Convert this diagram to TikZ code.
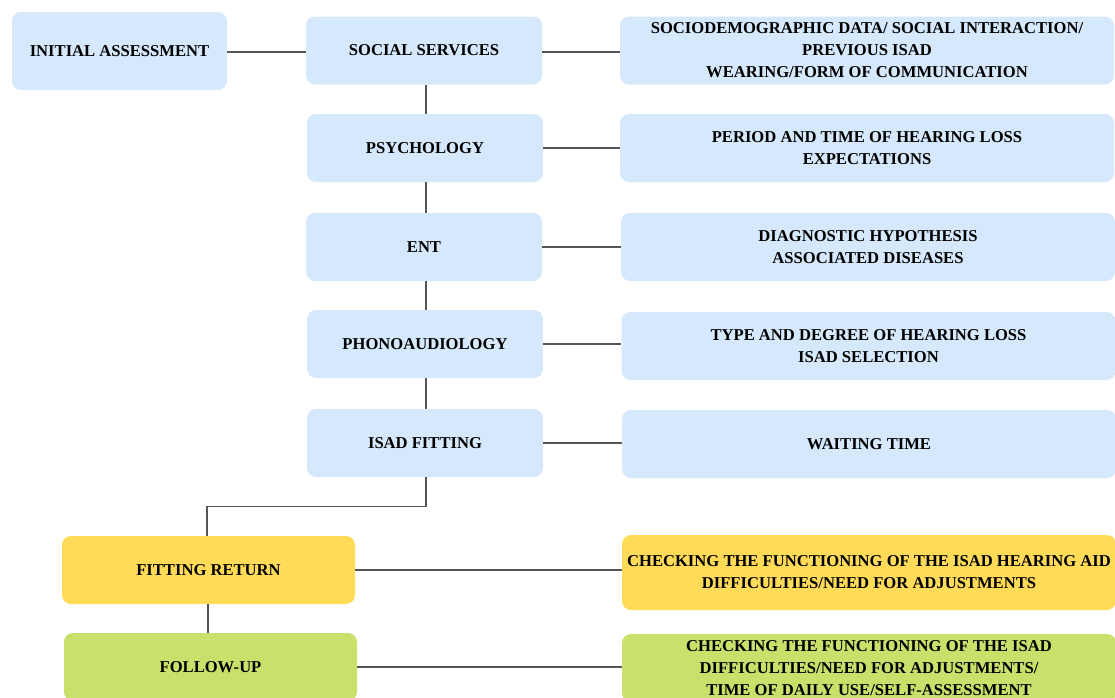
\documentclass[tikz,border=0pt]{standalone}
\usepackage{fontspec}
\setmainfont{Liberation Serif}
\usetikzlibrary{positioning}
\definecolor{stageblue}{RGB}{213,232,252}
\definecolor{stageyellow}{RGB}{255,219,88}
\definecolor{stagegreen}{RGB}{201,224,106}
\definecolor{linkgray}{RGB}{85,85,85}
\begin{document}
\begin{tikzpicture}[x=1pt, y=-1pt,
    stage/.style = {rounded corners=9pt, fill=stageblue, align=center, inner sep=0pt,
                    font=\fontsize{16.6}{22}\selectfont\bfseries},
    left/.style = {stage, minimum width=236pt, minimum height=68pt},
    note/.style = {stage, minimum width=494pt, minimum height=68pt},
    link/.style = {draw=linkgray, line width=1.4pt}]
    \useasboundingbox (0,0) rectangle (1115,697);
    \node[stage, minimum width=215pt, minimum height=78pt] (init) at (119.5,51) {INITIAL ASSESSMENT};
    \node[left] (soc) at (424,50.5) {SOCIAL SERVICES};
    \node[left] (psy) at (425,148) {PSYCHOLOGY};
    \node[left] (ent) at (424,247) {ENT};
    \node[left] (pho) at (425,344) {PHONOAUDIOLOGY};
    \node[left] (isad) at (425,443) {ISAD FITTING};
    \node[note] (socnote) at (867,50.5) {SOCIODEMOGRAPHIC DATA/ SOCIAL INTERACTION/\\PREVIOUS ISAD\\WEARING/FORM OF COMMUNICATION};
    \node[note] (psynote) at (867,148) {PERIOD AND TIME OF HEARING LOSS\\EXPECTATIONS};
    \node[note] (entnote) at (868,247) {DIAGNOSTIC HYPOTHESIS\\ASSOCIATED DISEASES};
    \node[note] (phonote) at (868.5,346) {TYPE AND DEGREE OF HEARING LOSS\\ISAD SELECTION};
    \node[note] (isadnote) at (869,444) {WAITING TIME};
    \node[stage, fill=stageyellow, minimum width=293pt, minimum height=68pt] (fret) at (208.5,570) {FITTING RETURN};
    \node[stage, fill=stagegreen, minimum width=293pt, minimum height=68pt] (fup) at (210.5,667) {FOLLOW-UP};
    \node[note, fill=stageyellow, minimum height=75pt] (fretnote) at (869,572.5) {CHECKING THE FUNCTIONING OF THE ISAD HEARING AID\\DIFFICULTIES/NEED FOR ADJUSTMENTS};
    \node[note, fill=stagegreen, minimum height=68pt] (fupnote) at (869,668) {CHECKING THE FUNCTIONING OF THE ISAD\\DIFFICULTIES/NEED FOR ADJUSTMENTS/\\TIME OF DAILY USE/SELF-ASSESSMENT};
    % links
    \draw[link] (init.east |- 0,52) -- (soc.west |- 0,52);
    \draw[link] (soc.east |- 0,52) -- (socnote.west |- 0,52);
    \draw[link] (psy) -- (psynote);
    \draw[link] (ent) -- (entnote);
    \draw[link] (pho.east) -- (pho.east -| phonote.west);
    \draw[link] (isad.east) -- (isad.east -| isadnote.west);
    \draw[link] (fret) -- (fretnote.west |- fret.east);
    \draw[link] (fup) -- (fupnote.west |- fup.east);
    \draw[link] (soc.south -| 426,0) -- (psy.north -| 426,0);
    \draw[link] (psy.south -| 426,0) -- (ent.north -| 426,0);
    \draw[link] (ent.south -| 426,0) -- (pho.north -| 426,0);
    \draw[link] (pho.south -| 426,0) -- (isad.north -| 426,0);
    \draw[link] (isad.south -| 426,0) -- ++(0,29) -| (fret.north -| 207,0);
    \draw[link] (fret.south -| 208,0) -- (fup.north -| 208,0);
\end{tikzpicture}
\end{document}
